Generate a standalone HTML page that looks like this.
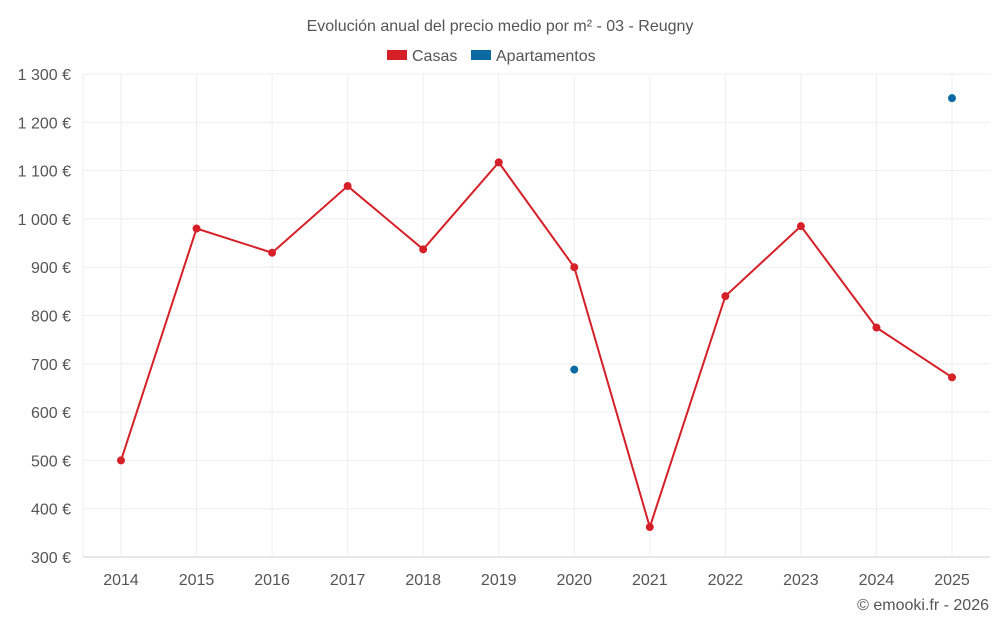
<!DOCTYPE html>
<html><head><meta charset="utf-8"><style>
body{margin:0;background:#fff;width:1000px;height:625px;overflow:hidden;font-family:"Liberation Sans",sans-serif}
svg text{font-family:"Liberation Sans",sans-serif}
</style></head><body>
<svg id="c" width="1000" height="625" xmlns="http://www.w3.org/2000/svg">
<text x="500" y="31" text-anchor="middle" font-size="16" fill="#555">Evolución anual del precio medio por m² - 03 - Reugny</text>
<g>
<g><rect x="387" y="50" width="20" height="10" fill="#d62027"/><text x="412" y="61" font-size="16" fill="#555">Casas</text></g>
<g><rect x="471" y="50" width="20" height="10" fill="#0a6aa1"/><text x="496" y="61" font-size="16" fill="#555">Apartamentos</text></g>
</g>
<g id="grid"></g><g id="marks"></g>
<text x="989" y="610" text-anchor="end" font-size="16" fill="#555">© emooki.fr - 2026</text>
</svg>
<script>
const years=[2014,2015,2016,2017,2018,2019,2020,2021,2022,2023,2024,2025];
const casas=[500,980,930,1068,937,1117,900,362,840,985,775,672];
const apartamentos=[null,null,null,null,null,null,688,null,null,null,null,1250];
const yTicks=[300,400,500,600,700,800,900,1000,1100,1200,1300];
const yLabels=["300 €","400 €","500 €","600 €","700 €","800 €","900 €","1 000 €","1 100 €","1 200 €","1 300 €"];
const NS="http://www.w3.org/2000/svg";
const L=83,R=990,T=74,B=557;
const x=i=>121+i*(952-121)/(years.length-1);
const y=v=>B-(v-300)/(1000)*(B-T);
function mk(t,a,p){const e=document.createElementNS(NS,t);for(const k in a)e.setAttribute(k,a[k]);p.appendChild(e);return e;}
const g=document.getElementById('grid'),m=document.getElementById('marks');
mk('line',{x1:L,x2:L,y1:T,y2:B,stroke:'#eee'},g);
yTicks.forEach((v,i)=>{
 const l=mk('line',{x1:L,x2:R,y1:y(v),y2:y(v),stroke:i==0?'#ccc':'#eee'},g);
 
 
 const t=mk('text',{x:71,y:y(v)+6,'text-anchor':'end','font-size':16,fill:'#555'},g);t.textContent=yLabels[i];
 
 
});
years.forEach((yr,i)=>{
 const l=mk('line',{x1:x(i),x2:x(i),y1:T,y2:B,stroke:'#eee'},g);
 
 
 const t=mk('text',{x:x(i),y:585,'text-anchor':'middle','font-size':16,fill:'#555'},g);t.textContent=yr;
 
 
});
const p=mk('polyline',{points:casas.map((v,i)=>x(i)+','+y(v)).join(' '),fill:'none',stroke:'#d62027','stroke-width':2},m);


casas.forEach((v,i)=>{const c=mk('circle',{cx:x(i),cy:y(v),r:4,fill:'#d62027'},m);
 
 });
apartamentos.forEach((v,i)=>{if(v==null)return;const c=mk('circle',{cx:x(i),cy:y(v),r:4,fill:'#0a6aa1'},m);
 
 });
</script>
</body></html>
